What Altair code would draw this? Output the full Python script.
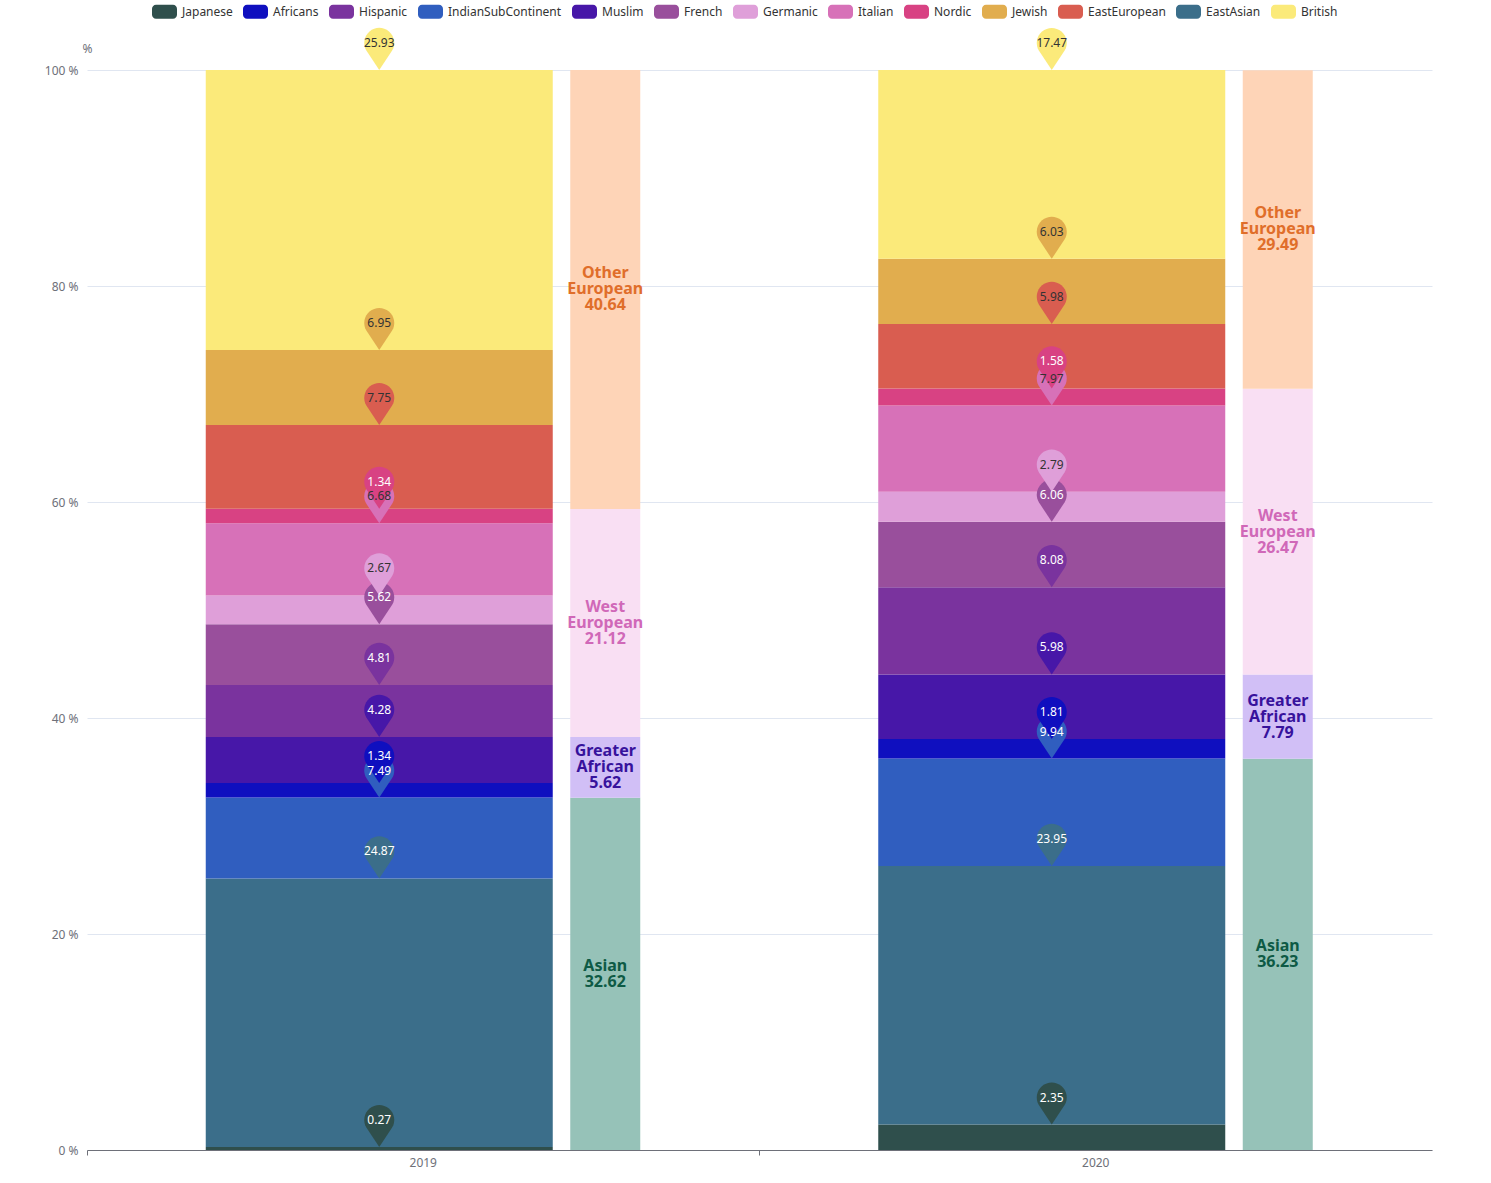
import altair as alt
import pandas as pd

years = ["2019", "2020"]
categories = ["Japanese", "Africans", "Hispanic", "IndianSubContinent", "Muslim", "French",
              "Germanic", "Italian", "Nordic", "Jewish", "EastEuropean", "EastAsian", "British"]
# stacking order (bottom to top)
stack_order = ["Japanese", "EastAsian", "IndianSubContinent", "Africans", "Muslim", "Hispanic",
               "French", "Germanic", "Italian", "Nordic", "EastEuropean", "Jewish", "British"]
values_2019 = [0.27, 24.87, 7.49, 1.34, 4.28, 4.81, 5.62, 2.67, 6.68, 1.34, 7.75, 6.95, 25.93]
values_2020 = [2.35, 23.95, 9.94, 1.81, 5.98, 8.08, 6.06, 2.79, 7.97, 1.58, 5.98, 6.03, 17.47]

groups = ["Asian", "Greater African", "West European", "Other European"]
groups_2019 = [32.62, 5.62, 21.12, 40.64]
groups_2020 = [36.23, 7.79, 26.47, 29.49]

cat_colors = {
    "Japanese": "#2f4f4c", "Africans": "#0f0fbf", "Hispanic": "#7a339e",
    "IndianSubContinent": "#305ebf", "Muslim": "#4717a8", "French": "#994f9c",
    "Germanic": "#df9fd9", "Italian": "#d771b8", "Nordic": "#d84283",
    "Jewish": "#e1ad4e", "EastEuropean": "#d95d50", "EastAsian": "#3b6e8a",
    "British": "#fbea7a",
}
group_fill = ["#96c2b8", "#d1bff6", "#f9dff3", "#fed4b7"]
group_text = ["#0e5a45", "#37129c", "#d068b8", "#e06e2a"]
dark_label_cats = ["British", "Jewish", "EastEuropean", "Italian", "Germanic"]

rows = []
for y, vals in zip(years, [values_2019, values_2020]):
    for i, (c, v) in enumerate(zip(stack_order, vals)):
        rows.append({"year": y, "category": c, "value": v, "ord": i})
df = pd.DataFrame(rows)

grows = []
for y, vals in zip(years, [groups_2019, groups_2020]):
    for i, (g, v) in enumerate(zip(groups, vals)):
        grows.append({"year": y, "group": g, "value": v, "ord": i})
gdf = pd.DataFrame(grows)

FONT = "Noto Sans"
PIN = "M0,0 L-0.86,-1.30 A1,1 0 1 1 0.86,-1.30 Z"
LEG = ("M-0.68,-0.56 L0.68,-0.56 A0.32,0.32 0 0 1 1,-0.24 L1,0.24 "
       "A0.32,0.32 0 0 1 0.68,0.56 L-0.68,0.56 A0.32,0.32 0 0 1 -1,0.24 "
       "L-1,-0.24 A0.32,0.32 0 0 1 -0.68,-0.56 Z")

WIDE_OFF = -44
NARROW_OFF = 182

xscale = alt.Scale(domain=years, paddingInner=0, paddingOuter=0)
yscale = alt.Scale(domain=[0, 100], nice=False)
cscale = alt.Scale(domain=categories, range=[cat_colors[c] for c in categories])

x_main = alt.X("year:N", scale=xscale,
               axis=alt.Axis(title=None, labelAngle=0, ticks=False, grid=False,
                             domainColor="#6e7079", labelColor="#6e7079",
                             labelFontSize=12, labelPadding=7, labelFont=FONT))
x_plain = alt.X("year:N", scale=xscale, axis=None)
x_ticks = alt.X("year:N", scale=xscale,
                axis=alt.Axis(title=None, labels=False, ticks=True, tickSize=5,
                              tickColor="#6e7079", domain=False, grid=False,
                              bandPosition=0, orient="bottom"))

y_axis = alt.Axis(title="%", titleAngle=0, titleX=0, titleY=-22,
                  titleAlign="center", titleBaseline="middle",
                  titleFontWeight="normal", titleColor="#6e7079",
                  titleFontSize=12, titleFont=FONT,
                  values=[0, 20, 40, 60, 80, 100],
                  labelExpr="datum.value + ' %'", labelColor="#6e7079",
                  labelFontSize=12, labelFont=FONT, labelPadding=9,
                  ticks=False, domain=False, gridColor="#e0e6f1")

bars = alt.Chart(df).mark_bar(width=347, xOffset=WIDE_OFF).encode(
    x=x_main,
    y=alt.Y("value:Q", stack="zero", scale=yscale, axis=y_axis),
    color=alt.Color("category:N", scale=cscale, sort=categories,
                    legend=alt.Legend(title=None, orient="none", direction="horizontal",
                                      columns=13, legendX=65, legendY=-71,
                                      symbolType=LEG, symbolSize=625,
                                      symbolStrokeWidth=0, labelFontSize=12,
                                      labelColor="#333333", labelFont=FONT,
                                      labelOffset=5, columnPadding=10, padding=0)),
    order=alt.Order("ord:Q"),
)

base_pin = alt.Chart(df).transform_window(
    cum="sum(value)", groupby=["year"], sort=[alt.SortField("ord")],
    frame=[None, 0]
)

pins = base_pin.mark_point(shape=PIN, size=900, filled=True, opacity=1,
                           strokeWidth=0, xOffset=WIDE_OFF).encode(
    x=x_plain,
    y=alt.Y("cum:Q", scale=yscale, axis=y_axis),
    color=alt.Color("category:N", scale=cscale, legend=None),
    order=alt.Order("ord:Q"),
)

pin_text = base_pin.mark_text(fontSize=12, font=FONT, dy=-27, xOffset=WIDE_OFF,
                              baseline="middle", align="center").encode(
    x=x_plain,
    y=alt.Y("cum:Q", scale=yscale, axis=y_axis),
    text=alt.Text("value:Q", format=".2f"),
    color=alt.condition(alt.FieldOneOfPredicate(field="category", oneOf=dark_label_cats),
                        alt.value("#333333"), alt.value("#ffffff")),
)

gbars = alt.Chart(gdf).mark_bar(width=70, xOffset=NARROW_OFF).encode(
    x=x_ticks,
    y=alt.Y("value:Q", stack="zero", scale=yscale, axis=y_axis),
    color=alt.Color("group:N", scale=alt.Scale(domain=groups, range=group_fill), legend=None),
    order=alt.Order("ord:Q"),
)

gtext = alt.Chart(gdf).transform_window(
    cum="sum(value)", groupby=["year"], sort=[alt.SortField("ord")], frame=[None, 0]
).transform_calculate(
    mid="datum.cum - datum.value / 2",
    label="replace(datum.group, ' ', '\\n') + '\\n' + format(datum.value, '.2f')",
    nl="length(split(datum.group, ' ')) + 1",
).mark_text(fontSize=16, fontWeight="bold", font=FONT, lineBreak="\n", lineHeight=16,
            xOffset=NARROW_OFF, dy=alt.ExprRef("-(datum.nl - 1) * 8"),
            baseline="middle", align="center").encode(
    x=x_plain,
    y=alt.Y("mid:Q", scale=yscale, axis=y_axis),
    text="label:N",
    color=alt.Color("group:N", scale=alt.Scale(domain=groups, range=group_text), legend=None),
)

chart = alt.layer(bars, gbars, pins, pin_text, gtext).resolve_scale(
    color="independent"
).resolve_axis(x="independent").properties(
    width=1345, height=1080,
    autosize=alt.AutoSizeParams(type="none"),
    padding={"left": 87, "top": 70, "right": 59, "bottom": 33},
    background="white",
).configure_view(stroke=None)

chart.save("out.html", embed_options={"renderer": "svg", "actions": False})
